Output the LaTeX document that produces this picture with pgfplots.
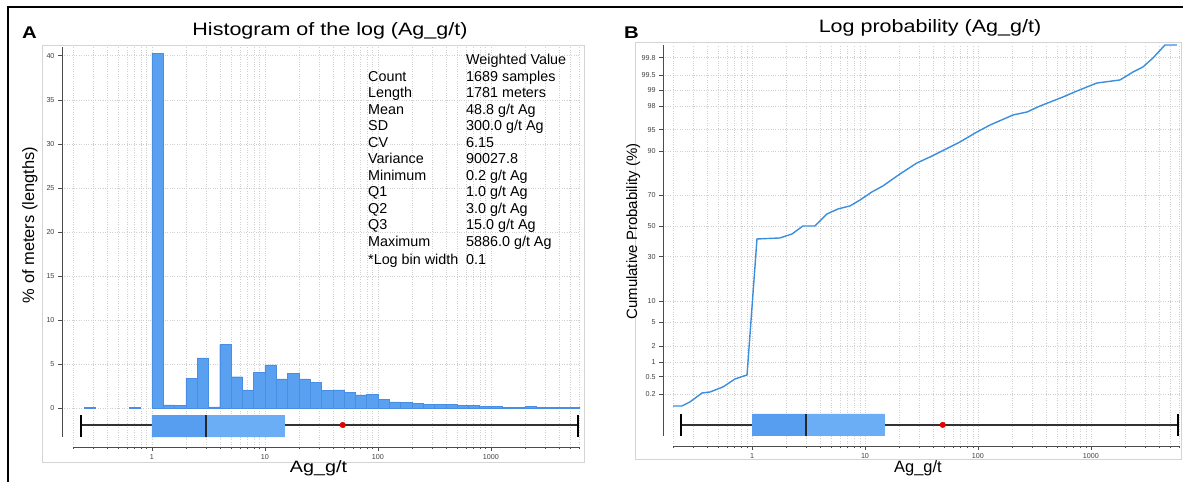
\documentclass[border=0pt]{standalone}
\usepackage{fontspec}
\setmainfont{Liberation Sans}
\newfontfamily\widefont[FakeStretch=1.2]{Liberation Sans}
\usepackage{pgfplots}
\pgfplotsset{compat=1.18}
\definecolor{barblue}{RGB}{90,160,240}
\definecolor{baredge}{RGB}{72,142,226}
\definecolor{boxA}{RGB}{88,158,240}
\definecolor{boxB}{RGB}{108,174,246}
\definecolor{lineblue}{RGB}{58,142,222}
\definecolor{gridgray}{RGB}{208,208,208}
\definecolor{panelgray}{RGB}{212,212,212}
\definecolor{ticklab}{RGB}{65,65,65}
\definecolor{whisk}{RGB}{50,50,50}
\begin{document}
\begin{tikzpicture}
\begin{scope}[x=1bp,y=1bp]
\useasboundingbox (0,0) rectangle (1183,482);
% outer frame
\draw[line width=2.5bp] (8,0) -- (8,475) -- (1183,475);
% panel borders
\draw[panelgray, line width=0.9bp] (42,20) rectangle (584,437);
\draw[panelgray, line width=0.9bp] (635,23) rectangle (1181,440);
\end{scope}

% ---------- Panel A ----------
\begin{axis}[scale only axis, anchor=south west, at={(62bp,35bp)},
  width=518bp, height=400bp,
  xmode=log, xmin=0.16, xmax=6140,
  ymin=-4.43, ymax=41,
  axis x line*=bottom, axis y line*=left,
  axis line style={-, draw=black!70, line width=0.8bp},
  x axis line style={shorten <=11bp},
  y axis line style={shorten <=10bp},
  xtick={1,10,100,1000}, xticklabels={1,10,100,1000},
  minor xtick={0.2,0.3,0.4,0.5,0.6,0.7,0.8,0.9,2,3,4,5,6,7,8,9,20,30,40,50,60,70,80,90,200,300,400,500,600,700,800,900,2000,3000,4000,5000,6000},
  ytick={0,5,10,15,20,25,30,35,40},
  yticklabels={0,5,10,15,20,25,30,35,40},
  grid=both,
  major grid style={gridgray, dotted, line width=0.6bp},
  minor grid style={gridgray, dotted, line width=0.6bp},
  tick align=outside,
  major tick length=4bp, minor tick length=2.5bp,
  tick style={draw=black!70, line width=0.6bp},
  xticklabel style={font=\fontsize{7.2}{8}\selectfont, text=ticklab},
  yticklabel style={font=\fontsize{7.2}{8}\selectfont, text=ticklab}]
\addplot[ybar interval, fill=barblue, draw=baredge, line width=0.4bp]
  coordinates {(0.2512,0.1) (0.3162,0.1)};
\addplot[ybar interval, fill=barblue, draw=baredge, line width=0.4bp]
  coordinates {(0.6310,0.12) (0.7943,0.12)};
\addplot[ybar interval, fill=barblue, draw=baredge, line width=0.4bp]
  coordinates {(1,40.3) (1.2589,0.34) (1.5849,0.26) (1.9953,3.35) (2.5119,5.7)
  (3.1623,0.12) (3.9811,7.2) (5.0119,3.55) (6.3096,2.0) (7.9433,4.05)
  (10,4.9) (12.589,3.3) (15.849,3.9) (19.953,3.3) (25.119,2.9)
  (31.623,2.0) (39.811,2.05) (50.119,1.75) (63.096,1.5) (79.433,1.55)
  (100,1.0) (125.89,0.7) (158.49,0.65) (199.53,0.5) (251.19,0.4)
  (316.23,0.4) (398.11,0.4) (501.19,0.3) (630.96,0.3) (794.33,0.2)
  (1000,0.15) (1258.9,0.1) (1584.9,0.05) (1995.3,0.2) (2511.9,0.1)
  (3162.3,0.1) (3981.1,0.1) (5011.9,0.05) (6309.6,0.05)};
% box plot
\addplot[whisk, line width=1.3bp] coordinates {(0.235,-1.93) (5886,-1.93)};
\addplot[fill=boxA, draw=none] coordinates {(1,-0.8) (3,-0.8) (3,-3.3) (1,-3.3) (1,-0.8)};
\addplot[fill=boxB, draw=none] coordinates {(3,-0.8) (15,-0.8) (15,-3.3) (3,-3.3) (3,-0.8)};
\addplot[black!85, line width=1.3bp] coordinates {(3,-0.8) (3,-3.3)};
\addplot[black, line width=2.2bp] coordinates {(0.235,-0.8) (0.235,-3.3)};
\addplot[black, line width=2.2bp] coordinates {(5886,-0.8) (5886,-3.3)};
\addplot[only marks, mark=*, mark size=2.8bp, red!90!black] coordinates {(48.8,-1.93)};
\end{axis}

% ---------- Panel B ----------
\begin{axis}[scale only axis, anchor=south west, at={(663bp,36bp)},
  width=517bp, height=401bp,
  xmode=log, xmin=0.1631, xmax=6140,
  ymin=-3.761, ymax=3.094,
  axis x line*=bottom, axis y line*=left,
  axis line style={-, draw=black!70, line width=0.8bp},
  x axis line style={shorten <=10bp},
  y axis line style={shorten <=10bp},
  xtick={1,10,100,1000}, xticklabels={1,10,100,1000},
  minor xtick={0.2,0.3,0.4,0.5,0.6,0.7,0.8,0.9,2,3,4,5,6,7,8,9,20,30,40,50,60,70,80,90,200,300,400,500,600,700,800,900,2000,3000,4000,5000,6000},
  ytick={-2.878,-2.576,-2.326,-2.054,-1.645,-1.2816,-0.5244,0,0.5244,1.2816,1.645,2.054,2.326,2.576,2.878},
  yticklabels={0.2,0.5,1,2,5,10,30,50,70,90,95,98,99,99.5,99.8},
  grid=both,
  major grid style={gridgray, dotted, line width=0.6bp},
  minor grid style={gridgray, dotted, line width=0.6bp},
  tick align=outside,
  major tick length=4bp, minor tick length=2.5bp,
  tick style={draw=black!70, line width=0.6bp},
  xticklabel style={font=\fontsize{7.2}{8}\selectfont, text=ticklab},
  yticklabel style={font=\fontsize{7.2}{8}\selectfont, text=ticklab}]
\addplot[lineblue, line width=1.4bp] coordinates {
(0.200,-3.077) (0.240,-3.077) (0.282,-3.009) (0.361,-2.855) (0.425,-2.838)
(0.553,-2.752) (0.708,-2.615) (0.904,-2.547) (1.107,-0.222) (1.77,-0.205)
(2.26,-0.137) (2.82,0) (3.61,0) (4.61,0.205) (5.77,0.291) (7.36,0.342)
(9.04,0.444) (11.5,0.581) (14.4,0.684) (20.4,0.889) (28.8,1.077)
(37.6,1.179) (69.3,1.436) (97.9,1.607) (128,1.726) (204,1.897)
(272,1.949) (354,2.051) (565,2.205) (752,2.308) (1130,2.444)
(1807,2.496) (2355,2.632) (2884,2.718) (3540,2.872) (4519,3.094) (5768,3.094)};
\addplot[whisk, line width=1.3bp] coordinates {(0.235,-3.40) (5886,-3.40)};
\addplot[fill=boxA, draw=none] coordinates {(1,-3.21) (3,-3.21) (3,-3.59) (1,-3.59) (1,-3.21)};
\addplot[fill=boxB, draw=none] coordinates {(3,-3.21) (15,-3.21) (15,-3.59) (3,-3.59) (3,-3.21)};
\addplot[black!85, line width=1.3bp] coordinates {(3,-3.21) (3,-3.59)};
\addplot[black, line width=2.2bp] coordinates {(0.235,-3.21) (0.235,-3.59)};
\addplot[black, line width=2.2bp] coordinates {(5886,-3.21) (5886,-3.59)};
\addplot[only marks, mark=*, mark size=2.8bp, red!90!black] coordinates {(48.8,-3.40)};
\end{axis}

% ---------- Texts ----------
\begin{scope}[x=1bp,y=1bp]
\node[anchor=base west, font=\widefont\bfseries\fontsize{17}{20}\selectfont, inner sep=0] at (22,443) {A};
\node[anchor=base west, font=\widefont\bfseries\fontsize{17}{20}\selectfont, inner sep=0] at (624,443) {B};
\node[anchor=base, font=\widefont\fontsize{18}{21}\selectfont, inner sep=0] at (330,446) {Histogram of the log (Ag\_g/t)};
\node[anchor=base, font=\widefont\fontsize{18}{21}\selectfont, inner sep=0] at (930,449) {Log probability (Ag\_g/t)};
\node[anchor=base, rotate=90, font=\fontsize{16.5}{19}\selectfont, inner sep=0] at (34,257) {\% of meters (lengths)};
\node[anchor=base, rotate=90, font=\fontsize{15}{18}\selectfont, inner sep=0] at (637,250.5) {Cumulative Probability (\%)};
\node[anchor=base, font=\widefont\fontsize{16.5}{19}\selectfont, inner sep=0] at (318.5,9) {Ag\_g/t};
\node[anchor=base, font=\fontsize{16.5}{19}\selectfont, inner sep=0] at (918,9) {Ag\_g/t};
% statistics
\begin{scope}[every node/.style={anchor=base west, inner sep=0, font=\fontsize{14.4}{16.5}\selectfont}]
\node at (466,417) {Weighted Value};
\node at (368,400.5) {Count};     \node at (466,400.5) {1689 samples};
\node at (368,384) {Length};      \node at (466,384) {1781 meters};
\node at (368,367.5) {Mean};      \node at (466,367.5) {48.8 g/t Ag};
\node at (368,351) {SD};          \node at (466,351) {300.0 g/t Ag};
\node at (368,334.5) {CV};        \node at (466,334.5) {6.15};
\node at (368,318) {Variance};    \node at (466,318) {90027.8};
\node at (368,301.5) {Minimum};   \node at (466,301.5) {0.2 g/t Ag};
\node at (368,285) {Q1};          \node at (466,285) {1.0 g/t Ag};
\node at (368,268.5) {Q2};        \node at (466,268.5) {3.0 g/t Ag};
\node at (368,252) {Q3};          \node at (466,252) {15.0 g/t Ag};
\node at (368,235.5) {Maximum};   \node at (466,235.5) {5886.0 g/t Ag};
\node at (368,217) {*Log bin width}; \node at (466,217) {0.1};
\end{scope}
\end{scope}
\end{tikzpicture}
\end{document}
